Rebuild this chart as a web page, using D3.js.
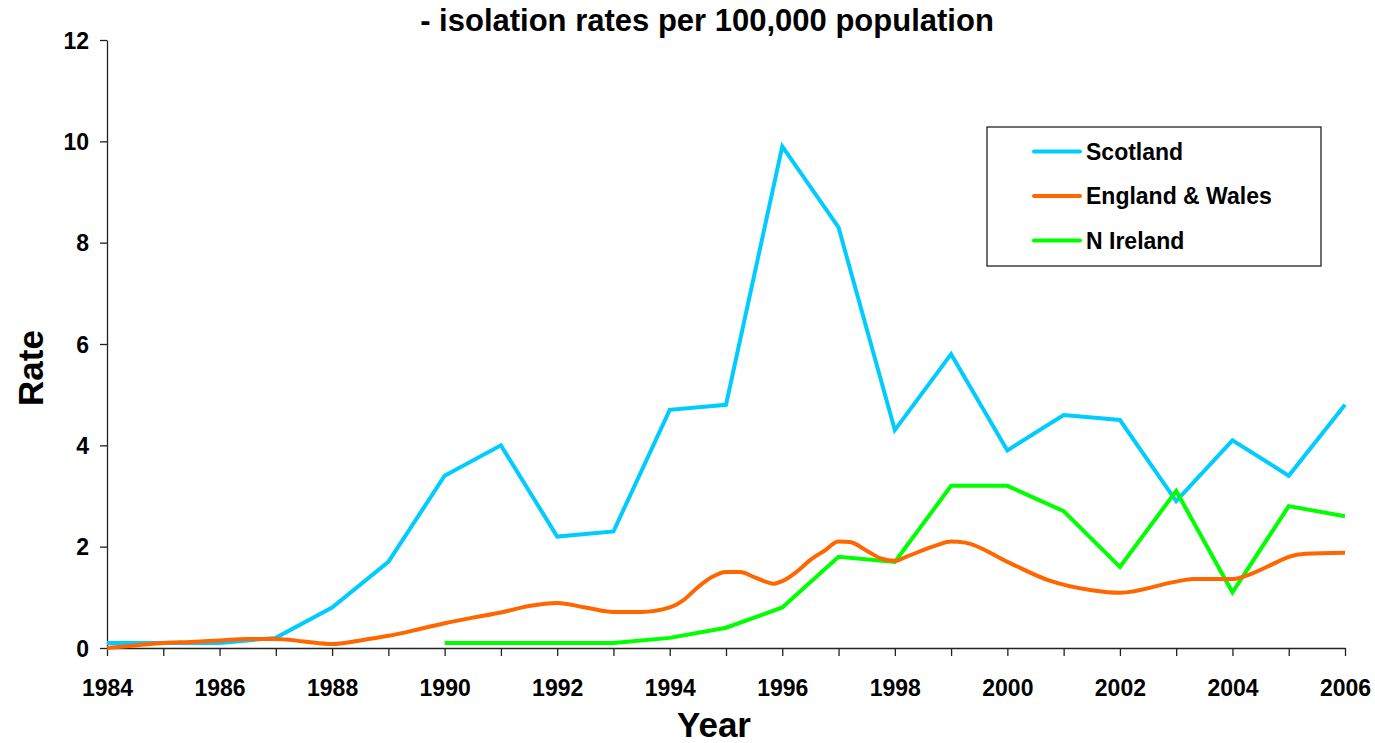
<!DOCTYPE html>
<html lang="en">
<head>
<meta charset="utf-8">
<title>isolation rates</title>
<script src="https://cdn.jsdelivr.net/npm/d3@7"></script>
<style>
  body { margin: 0; background: #fff; }
  svg text { font-family: "Liberation Sans", Arial, sans-serif; font-weight: bold; }
</style>
</head>
<body>
<script>

// data
var years = d3.range(1984, 2007);
var scotland = [0.1, 0.1, 0.1, 0.2, 0.8, 1.7, 3.4, 4.0, 2.2, 2.3, 4.7, 4.8, 9.9, 8.3, 4.3, 5.8, 3.9, 4.6, 4.5, 2.9, 4.1, 3.4, 4.8];

// england & wales is drawn smoothed with in-between points
var ewYears = [1984, 1984.5, 1985, 1985.5, 1986, 1986.5, 1987, 1987.5, 1988, 1988.5, 1989, 1989.5, 1990, 1990.5, 1991, 1991.5, 1992, 1992.5, 1993, 1993.5, 1994, 1994.25, 1994.5, 1994.75, 1995, 1995.25, 1995.5, 1995.85, 1996, 1996.25, 1996.5, 1996.75, 1997, 1997.2, 1997.5, 1997.75, 1998, 1998.2, 1998.75, 1999, 1999.25, 2000, 2000.75, 2001.5, 2002, 2003, 2003.3, 2004, 2004.2, 2004.8, 2005, 2005.3, 2006];
var ewRates = [0.0, 0.05, 0.1, 0.12, 0.15, 0.18, 0.18, 0.13, 0.08, 0.15, 0.24, 0.36, 0.49, 0.6, 0.7, 0.83, 0.89, 0.8, 0.71, 0.71, 0.8, 0.95, 1.2, 1.4, 1.5, 1.5, 1.4, 1.27, 1.32, 1.5, 1.74, 1.92, 2.1, 2.09, 1.92, 1.77, 1.72, 1.8, 2.03, 2.1, 2.08, 1.7, 1.33, 1.14, 1.09, 1.31, 1.36, 1.36, 1.41, 1.7, 1.8, 1.86, 1.88];

var niYears = d3.range(1990, 2007);
var nIreland = [0.1, 0.1, 0.1, 0.1, 0.2, 0.4, 0.8, 1.8, 1.7, 3.2, 3.2, 2.7, 1.6, 3.1, 1.1, 2.8, 2.6];

var yTicks = [0, 2, 4, 6, 8, 10, 12];

var W = 1375, H = 743;
var margin = {top: 40, left: 107, right: 30, bottom: 95};
var plotW = W - margin.left - margin.right;
var plotH = H - margin.top - margin.bottom;

var svg = d3.select("body").append("svg")
    .attr("width", W)
    .attr("height", H);

var g = svg.append("g")
    .attr("transform", "translate(" + margin.left + "," + margin.top + ")");

var x = d3.scaleLinear().domain([1984, 2006]).range([0, plotW]);
var y = d3.scaleLinear().domain([0, 12]).range([plotH, 0]);

// axes - a tick every year, label every other year
var xAxis = g.append("g")
    .attr("transform", "translate(0," + plotH + ")")
    .call(d3.axisBottom(x).tickValues(years).tickSize(8).tickSizeOuter(0)
        .tickFormat(function(d) { return d % 2 == 0 ? d : ""; }));
xAxis.selectAll("text").attr("font-size", 23).attr("y", 48).attr("dy", 0).attr("fill", "#000");

var yAxis = g.append("g")
    .call(d3.axisLeft(y).tickValues(yTicks).tickSize(7).tickSizeOuter(0));
yAxis.selectAll("text").attr("font-size", 23).attr("x", -18).attr("dy", "0.36em").attr("fill", "#000");

g.selectAll(".domain, .tick line").attr("stroke", "#222").attr("stroke-width", 1.3);

// lines
var lineS = d3.line()
    .x(function(d, i) { return x(years[i]); })
    .y(function(d) { return y(d); });

var lineEW = d3.line()
    .x(function(d, i) { return x(ewYears[i]); })
    .y(function(d) { return y(d); })
    .curve(d3.curveMonotoneX);

var lineNI = d3.line()
    .x(function(d, i) { return x(niYears[i]); })
    .y(function(d) { return y(d); });

g.append("path").datum(scotland)
    .attr("d", lineS)
    .attr("fill", "none").attr("stroke", "#00CCFF").attr("stroke-width", 4);

g.append("path").datum(nIreland)
    .attr("d", lineNI)
    .attr("fill", "none").attr("stroke", "#00FF00").attr("stroke-width", 4);

g.append("path").datum(ewRates)
    .attr("d", lineEW)
    .attr("fill", "none").attr("stroke", "#FF6600").attr("stroke-width", 4);

// title and axis names
svg.append("text")
    .attr("x", 707).attr("y", 31)
    .attr("text-anchor", "middle")
    .attr("font-size", 31)
    .text("- isolation rates per 100,000 population");

svg.append("text")
    .attr("x", 714).attr("y", 737)
    .attr("text-anchor", "middle")
    .attr("font-size", 35)
    .text("Year");

svg.append("text")
    .attr("transform", "translate(43," + 368 + ") rotate(-90)")
    .attr("text-anchor", "middle")
    .attr("font-size", 35)
    .text("Rate");

// legend
var legendItems = [
  { name: "Scotland", color: "#00CCFF" },
  { name: "England & Wales", color: "#FF6600" },
  { name: "N Ireland", color: "#00FF00" }
];

var legend = svg.append("g").attr("transform", "translate(987,127)");
legend.append("rect")
    .attr("width", 334).attr("height", 139)
    .attr("fill", "#fff").attr("stroke", "#222").attr("stroke-width", 1.3);

var items = legend.selectAll("g.item")
    .data(legendItems)
    .enter().append("g")
    .attr("transform", function(d, i) { return "translate(0," + (24.5 + i * 44.5) + ")"; });

items.append("line")
    .attr("x1", 47).attr("x2", 93)
    .attr("stroke", function(d) { return d.color; })
    .attr("stroke-width", 4).attr("stroke-linecap", "round");

items.append("text")
    .attr("x", 99).attr("y", 8)
    .attr("font-size", 23)
    .text(function(d) { return d.name; });

</script>
</body>
</html>
